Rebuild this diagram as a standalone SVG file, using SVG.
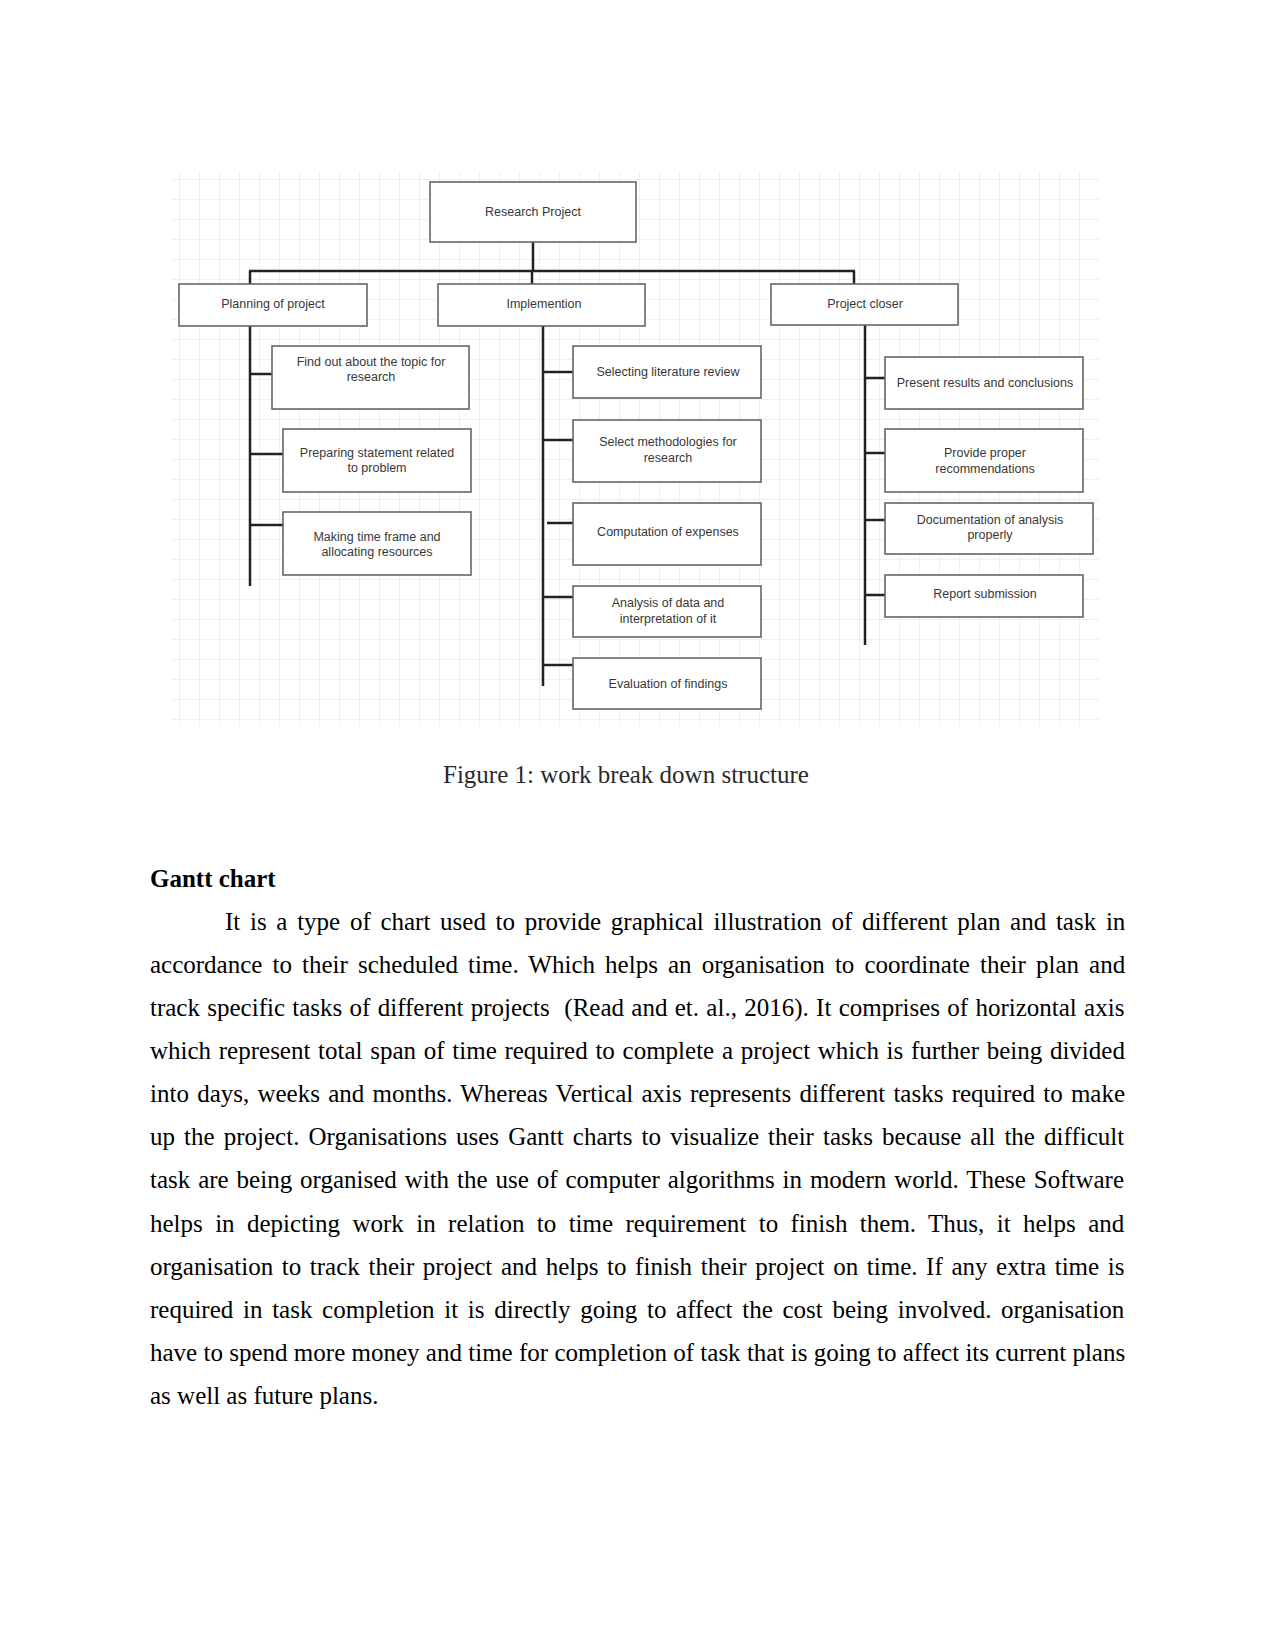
<svg xmlns="http://www.w3.org/2000/svg" width="1275" height="1650" viewBox="0 0 1275 1650">
<defs>
<pattern id="grid" width="20" height="20" patternUnits="userSpaceOnUse" x="0" y="0">
<path d="M20 0V20M0 20H20" fill="none" stroke="#e0e0e0" stroke-width="1"/>
</pattern>
<style>
.box{fill:#fff;stroke:#666;stroke-width:1.6}
.lbl{font-family:"Liberation Sans",Arial,sans-serif;font-size:12.5px;fill:#383838;text-anchor:middle}
.con{stroke:#222;stroke-width:2.5;fill:none}
.body{font-family:"Liberation Serif","Times New Roman",serif;font-size:25px;fill:#000}
</style>
</defs>
<rect width="1275" height="1650" fill="#fff"/>
<rect x="171" y="171" width="928" height="555" fill="url(#grid)"/>

<g id="connectors">
<path class="con" d="M533 242V271M249 271H855M250 271V284M532 271V284M854 271V284"/>
<path class="con" d="M250 326V586M250 374H272M250 454H283M250 525H283"/>
<path class="con" d="M543 326V686M543 372H573M543 440H573M547 523H573M543 597H573M543 665H573"/>
<path class="con" d="M865 325V645M865 378H885M865 453H885M865 520H885M865 595H885"/>
</g>

<g id="n-root"><rect class="box" x="430" y="182" width="206" height="60"/><text class="lbl" x="533" y="216">Research Project</text></g>
<g id="n-planning"><rect class="box" x="179" y="284" width="188" height="42"/><text class="lbl" x="273" y="308">Planning of project</text></g>
<g id="n-impl"><rect class="box" x="438" y="284" width="207" height="42"/><text class="lbl" x="544" y="308">Implemention</text></g>
<g id="n-closer"><rect class="box" x="771" y="284" width="187" height="41"/><text class="lbl" x="865" y="308">Project closer</text></g>

<g id="n-findout"><rect class="box" x="272" y="346" width="197" height="63"/><text class="lbl" x="371" y="366">Find out about the topic for</text><text class="lbl" x="371" y="381">research</text></g>
<g id="n-preparing"><rect class="box" x="283" y="429" width="188" height="63"/><text class="lbl" x="377" y="457">Preparing statement related</text><text class="lbl" x="377" y="472">to problem</text></g>
<g id="n-making"><rect class="box" x="283" y="512" width="188" height="63"/><text class="lbl" x="377" y="541">Making time frame and</text><text class="lbl" x="377" y="556">allocating resources</text></g>

<g id="n-selecting"><rect class="box" x="573" y="346" width="188" height="52"/><text class="lbl" x="668" y="376">Selecting literature review</text></g>
<g id="n-method"><rect class="box" x="573" y="420" width="188" height="62"/><text class="lbl" x="668" y="446">Select methodologies for</text><text class="lbl" x="668" y="462">research</text></g>
<g id="n-computation"><rect class="box" x="573" y="503" width="188" height="62"/><text class="lbl" x="668" y="536">Computation of expenses</text></g>
<g id="n-analysis"><rect class="box" x="573" y="586" width="188" height="51"/><text class="lbl" x="668" y="607">Analysis of data and</text><text class="lbl" x="668" y="623">interpretation of it</text></g>
<g id="n-evaluation"><rect class="box" x="573" y="658" width="188" height="51"/><text class="lbl" x="668" y="688">Evaluation of findings</text></g>

<g id="n-present"><rect class="box" x="885" y="357" width="198" height="52"/><text class="lbl" x="985" y="387">Present results and conclusions</text></g>
<g id="n-provide"><rect class="box" x="885" y="429" width="198" height="63"/><text class="lbl" x="985" y="457">Provide proper</text><text class="lbl" x="985" y="473">recommendations</text></g>
<g id="n-doc"><rect class="box" x="885" y="503" width="208" height="51"/><text class="lbl" x="990" y="524">Documentation of analysis</text><text class="lbl" x="990" y="539">properly</text></g>
<g id="n-report"><rect class="box" x="885" y="575" width="198" height="42"/><text class="lbl" x="985" y="598">Report submission</text></g>

<text x="443" y="783" font-family="Liberation Serif, Times New Roman, serif" font-size="25" fill="#2a2a2a">Figure 1: work break down structure</text>

<text x="150" y="887" font-family="Liberation Serif, Times New Roman, serif" font-size="25" font-weight="bold" fill="#000">Gantt chart</text>

<text class="body" x="225" y="930" word-spacing="3.45">It is a type of chart used to provide graphical illustration of different plan and task in</text>
<text class="body" x="150" y="973" word-spacing="3.85">accordance to their scheduled time. Which helps an organisation to coordinate their plan and</text>
<text class="body" x="150" y="1016" word-spacing="1.05" xml:space="preserve">track specific tasks of different projects  (Read and et. al., 2016). It comprises of horizontal axis</text>
<text class="body" x="150" y="1059" word-spacing="1.45">which represent total span of time required to complete a project which is further being divided</text>
<text class="body" x="150" y="1102" word-spacing="2.0">into days, weeks and months. Whereas Vertical axis represents different tasks required to make</text>
<text class="body" x="150" y="1145" word-spacing="2.85">up the project. Organisations uses Gantt charts to visualize their tasks because all the difficult</text>
<text class="body" x="150" y="1188" word-spacing="1.65">task are being organised with the use of computer algorithms in modern world. These Software</text>
<text class="body" x="150" y="1232" word-spacing="6.15">helps in depicting work in relation to time requirement to finish them. Thus, it helps and</text>
<text class="body" x="150" y="1275" word-spacing="2.38">organisation to track their project and helps to finish their project on time. If any extra time is</text>
<text class="body" x="150" y="1318" word-spacing="3.45">required in task completion it is directly going to affect the cost being involved. organisation</text>
<text class="body" x="150" y="1361" word-spacing="0.05">have to spend more money and time for completion of task that is going to affect its current plans</text>
<text class="body" x="150" y="1404">as well as future plans.</text>
</svg>
